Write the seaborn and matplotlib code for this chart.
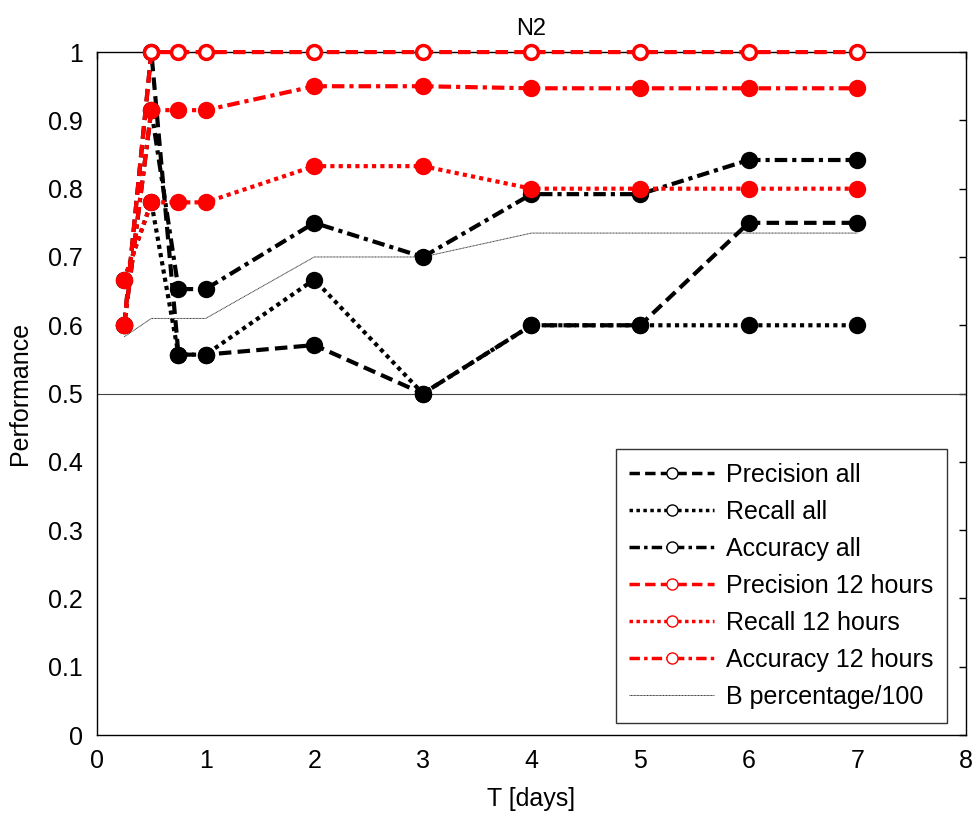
import matplotlib
matplotlib.use("Agg")
import matplotlib.pyplot as plt
import seaborn as sns
import numpy as np
from matplotlib.lines import Line2D

sns.set_style("white")
plt.rcParams['font.family'] = ['Liberation Sans', 'DejaVu Sans']
plt.rcParams['text.color'] = 'black'
plt.rcParams['axes.labelcolor'] = 'black'

T = [0.25, 0.5, 0.75, 1, 2, 3, 4, 5, 6, 7]
precision_all = [0.6, 1.0, 0.557, 0.557, 0.571, 0.5, 0.6, 0.6, 0.75, 0.75]
recall_all = [0.667, 0.78, 0.557, 0.557, 0.667, 0.5, 0.6, 0.6, 0.6, 0.6]
accuracy_all = [0.6, 0.915, 0.653, 0.653, 0.75, 0.7, 0.792, 0.792, 0.842, 0.842]
precision_12h = [0.6, 1.0, 1.0, 1.0, 1.0, 1.0, 1.0, 1.0, 1.0, 1.0]
recall_12h = [0.667, 0.78, 0.78, 0.78, 0.833, 0.833, 0.8, 0.8, 0.8, 0.8]
accuracy_12h = [0.6, 0.915, 0.915, 0.915, 0.95, 0.95, 0.947, 0.947, 0.947, 0.947]
b_percentage = [0.583, 0.61, 0.61, 0.61, 0.70, 0.70, 0.735, 0.735, 0.735, 0.735]
labels = ["Precision all", "Recall all", "Accuracy all",
          "Precision 12 hours", "Recall 12 hours", "Accuracy 12 hours",
          "B percentage/100"]
ytick_labels = ['0', '0.1', '0.2', '0.3', '0.4', '0.5', '0.6', '0.7', '0.8', '0.9', '1']

FS = 18

fig = plt.figure(figsize=(9.78, 8.14), dpi=100)
ax = fig.add_axes([0.0992, 0.097, 0.8885, 0.839])

series = [
    (precision_all, 'black', (0, (3, 1.5)), 'black'),
    (recall_all, 'black', (0, (1, 1)), 'black'),
    (accuracy_all, 'black', (0, (3, 1.2, 1, 1.2)), 'black'),
    (precision_12h, 'red', (0, (3, 1.5)), 'white'),
    (recall_12h, 'red', (0, (1, 1)), 'red'),
    (accuracy_12h, 'red', (0, (3, 1.2, 1, 1.2)), 'red'),
]

ax.axhline(0.5, color='#444444', lw=0.8, zorder=1)
sns.lineplot(x=T, y=b_percentage, ax=ax, color='#333333', lw=0.7,
             linestyle=(0, (1, 0.5)), zorder=2)

for vals, col, ls, mfc in series:
    sns.lineplot(x=T, y=vals, ax=ax, color=col, lw=3, linestyle=ls,
                 marker='o', markersize=10, markerfacecolor=mfc,
                 markeredgecolor=col, markeredgewidth=2.5, zorder=3,
                 clip_on=False)

ax.set_xlim(0, 8)
ax.set_ylim(0, 1)
ax.set_xticks(range(0, 9))
ax.set_yticks(np.round(np.arange(0, 1.01, 0.1), 1))
ax.set_yticklabels(ytick_labels)
ax.tick_params(direction='in', length=5, width=1, labelsize=FS, top=True, right=True,
               colors='black', labelcolor='black', pad=10)
for s in ax.spines.values():
    s.set_color('black')
    s.set_linewidth(1)
ax.set_title("N2", fontsize=FS - 1, pad=12, color='black')
ax.set_xlabel("T [days]", fontsize=FS, labelpad=10, color='black')
ax.set_ylabel("Performance", fontsize=FS, labelpad=12, color='black')

handles = []
for vals, col, ls, mfc in series:
    handles.append(Line2D([0], [0], color=col, lw=2.5, linestyle=ls, marker='o',
                          markersize=8, markerfacecolor='white',
                          markeredgecolor=col, markeredgewidth=1))
handles.append(Line2D([0], [0], color='#333333', lw=0.7, linestyle=(0, (1, 0.5))))
leg = ax.legend(handles, labels, loc='lower right', bbox_to_anchor=(0.978, 0.018),
                fontsize=FS, frameon=True, fancybox=False, edgecolor='black',
                handlelength=3.4, handletextpad=0.45, labelspacing=0.52,
                borderpad=0.55, borderaxespad=0)
leg.get_frame().set_linewidth(1)
for t in leg.get_texts():
    t.set_color('black')

fig.savefig("out.png", dpi=100)
